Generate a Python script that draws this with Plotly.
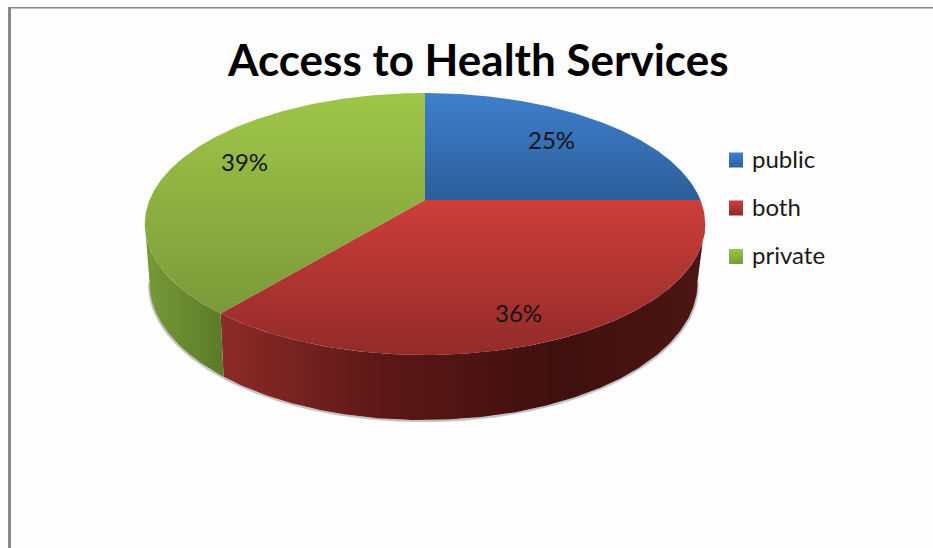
import numpy as np
import plotly.graph_objects as go

# Chart content
title = "Access to Health Services"
categories = ["public", "both", "private"]
percentages = [25, 36, 39]

# Appearance of each slice: gradient stops for the top face and the rim
top_colors = [["#3f7fcd", "#2c5e99"], ["#cc3e3a", "#922b29"], ["#a0c648", "#7b993a"]]
wall_stops = [
    None,
    [[0, "#8c2b28"], [0.35, "#5a1716"], [0.7, "#3f100f"], [1, "#4c1613"]],
    [[0, "#789a38"], [1, "#5b7a28"]],
]
label_xy = [(551, 139), (518, 312), (244, 161)]
legend_y = [160, 208, 256.5]

WIDTH, HEIGHT = 933, 548
CX, CY = 425, 200
AX, AY, K = 275.5, 126.6, 0.183
BASE_CX, BASE_CY, BASE_AX, BASE_AY = 423.5, 258, 269.4, 132.4
FONT = "Lato"


def project(theta_deg, cx=CX, cy=CY, ax=AX, ay=AY):
    """Perspective view of a disc; theta runs clockwise from the top."""
    t = np.radians(theta_deg)
    u, v = np.sin(t), np.cos(t)
    d = 1 + K * v
    return cx + ax * u / d, cy - ay * v / d


def polygon(xs, ys, colorscale, orient, start, stop):
    return go.Scatter(
        x=list(xs), y=list(ys), mode="lines", fill="toself",
        line=dict(width=0), hoverinfo="skip", showlegend=False,
        fillgradient=dict(type=orient, colorscale=colorscale, start=start, stop=stop),
    )


fig = go.Figure()

edges = np.cumsum([0] + percentages) * 3.6

# Soft shadow hugging the base of the pie
sx, sy = project(np.linspace(100, 260, 200), BASE_CX, BASE_CY + 1, BASE_AX + 0.5, BASE_AY)
fig.add_trace(go.Scatter(x=sx, y=sy, mode="lines", hoverinfo="skip", showlegend=False,
                         line=dict(color="rgba(120,120,120,0.45)", width=2)))

# Visible part of the rim, clipped to the front of the disc
for i, stops in enumerate(wall_stops):
    if stops is None:
        continue
    a0, a1 = max(edges[i], 100), min(edges[i + 1], 260)
    th = np.linspace(a0, a1, 160)
    tx, ty = project(th)
    bx, by = project(th, BASE_CX, BASE_CY, BASE_AX, BASE_AY)
    xs = np.r_[tx, bx[::-1]]
    ys = np.r_[ty, by[::-1]]
    fig.add_trace(polygon(xs, ys, stops, "horizontal", xs.min(), xs.max()))

# Top face of every slice
for i, colors in enumerate(top_colors):
    th = np.linspace(edges[i], edges[i + 1], 200)
    rx, ry = project(th)
    xs = np.r_[CX, rx, CX]
    ys = np.r_[CY, ry, CY]
    fig.add_trace(polygon(xs, ys, [[0, colors[0]], [1, colors[1]]], "vertical", ys.min(), ys.max()))

annotations = [dict(x=477.5, y=58.5, text=f"<b>{title}</b>", showarrow=False,
                    font=dict(family=FONT, size=44, color="#000000"))]

# Percent labels on the slices
for value, (lx, ly) in zip(percentages, label_xy):
    annotations.append(dict(x=lx, y=ly, text=f"{value}%", showarrow=False,
                            font=dict(family=FONT, size=24, color="#141414")))

# Legend: gradient swatch and name
for name, ly, colors in zip(categories, legend_y, top_colors):
    sx0, sx1, sy0, sy1 = 729, 743, ly - 7.5, ly + 7.5
    fig.add_trace(polygon([sx0, sx1, sx1, sx0, sx0], [sy0, sy0, sy1, sy1, sy0],
                          [[0, colors[0]], [1, colors[1]]], "vertical", sy0, sy1))
    annotations.append(dict(x=749.5, y=ly - 2, text=name, showarrow=False, xanchor="left",
                            font=dict(family=FONT, size=24, color="#1a1a1a")))

fig.update_layout(
    width=WIDTH, height=HEIGHT, margin=dict(l=0, r=0, t=0, b=0),
    paper_bgcolor="#fdfdfd", plot_bgcolor="#fdfdfd", showlegend=False,
    xaxis=dict(range=[0, WIDTH], visible=False, fixedrange=True),
    yaxis=dict(range=[HEIGHT, 0], visible=False, fixedrange=True),
    annotations=annotations,
    shapes=[
        dict(type="rect", x0=8, x1=11, y0=7, y1=HEIGHT, fillcolor="#888888", line_width=0),
        dict(type="rect", x0=8, x1=WIDTH, y0=7, y1=8.5, fillcolor="#888888", line_width=0),
    ],
)

fig.write_html("out.html", config=dict(displayModeBar=False))
